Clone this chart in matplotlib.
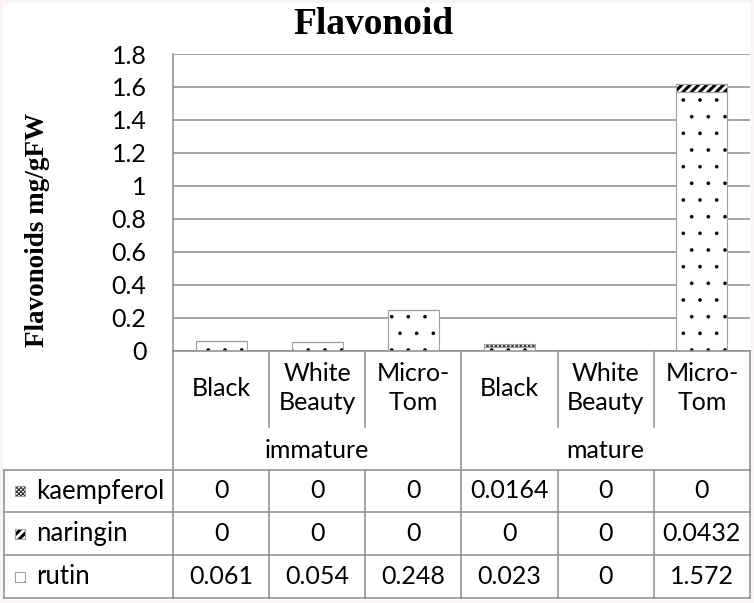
import matplotlib
matplotlib.use("Agg")
import matplotlib.pyplot as plt
import matplotlib.transforms as mtransforms
from matplotlib.patches import Rectangle
from matplotlib.lines import Line2D

# data
categories = ["Black", "White\nBeauty", "Micro-\nTom", "Black", "White\nBeauty", "Micro-\nTom"]
groups = ["immature", "mature"]
series_names = ["kaempferol", "naringin", "rutin"]
rutin = [0.061, 0.054, 0.248, 0.023, 0, 1.572]
naringin = [0, 0, 0, 0, 0, 0.0432]
kaempferol = [0, 0, 0, 0.0164, 0, 0]
yticks = [0, 0.2, 0.4, 0.6, 0.8, 1, 1.2, 1.4, 1.6, 1.8]

W, H = 754, 603
GRAY = "#8c8c8c"
SANS = ["Lato", "DejaVu Sans"]
SERIF = ["Liberation Serif", "DejaVu Serif"]

def fy(py):
    return 1 - py / H

def fx(px):
    return px / W

fig = plt.figure(figsize=(W / 100, H / 100), dpi=100, facecolor="#faf3f3")
fig.patches.append(Rectangle((fx(3), fy(600)), fx(748), 597 / H, transform=fig.transFigure,
                             facecolor="white", edgecolor="none", zorder=-10))

ax = fig.add_axes([fx(173), fy(350.6), fx(750 - 173), (350.6 - 54) / H])
ax.set_facecolor("none")
ax.set_xlim(-0.5, 5.5)
ax.set_ylim(0, 1.8)
ax.set_yticks(yticks)
ax.set_yticklabels([f"{t:g}" for t in yticks], fontfamily=SANS, fontsize=18)
ax.tick_params(axis="y", length=0, pad=19)
ax.set_xticks([])
ax.grid(axis="y", color=GRAY, linewidth=1.1)
ax.set_axisbelow(True)
for s in ["top", "right"]:
    ax.spines[s].set_visible(False)
for s in ["left", "bottom"]:
    ax.spines[s].set_color(GRAY)
    ax.spines[s].set_linewidth(1.1)

x = list(range(len(categories)))
bw = 0.53
hatches = {"rutin": ".", "naringin": "////", "kaempferol": "xxxxxxxx"}
hcolors = {"rutin": "black", "naringin": "black", "kaempferol": "#333333"}
hlw = {"rutin": 0.2, "naringin": 2.2, "kaempferol": 0.8}

def stacked(vals, bottom, name):
    with plt.rc_context({"hatch.linewidth": hlw[name], "hatch.color": hcolors[name]}):
        ax.bar(x, vals, bw, bottom=bottom, color="white", edgecolor=hcolors[name],
               hatch=hatches[name], linewidth=0, zorder=2)
    ax.bar(x, vals, bw, bottom=bottom, color="none", edgecolor="#a0a0a0",
           linewidth=0.8, zorder=3)

bottom = [0] * 6
stacked(rutin, bottom, "rutin")
bottom = [b + v for b, v in zip(bottom, rutin)]
stacked(naringin, bottom, "naringin")
bottom = [b + v for b, v in zip(bottom, naringin)]
stacked(kaempferol, bottom, "kaempferol")

fig.text(fx(373), fy(24), "Flavonoid", ha="center", va="center", fontfamily=SERIF,
         fontweight="bold", fontsize=27)
fig.text(fx(38), fy(230), "Flavonoids mg/gFW", ha="center", va="center", rotation=90,
         fontfamily=SERIF, fontweight="bold", fontsize=19.5)

# table under the axis, x in data units, y in figure units
tr = mtransforms.blended_transform_factory(ax.transData, fig.transFigure)
lkw = dict(color=GRAY, linewidth=1.1, clip_on=False)

def vline(xd, y0, y1):
    fig.add_artist(Line2D([xd, xd], [fy(y0), fy(y1)], transform=tr, **lkw))

for i in range(len(categories) + 1):
    xd = i - 0.5
    if i in (0, 3, 6):
        vline(xd, 350.6, 598)
    else:
        vline(xd, 350.6, 427)
        vline(xd, 470, 598)

for py in (470, 512, 555, 598):
    fig.add_artist(Line2D([fx(4), fx(750)], [fy(py), fy(py)], transform=fig.transFigure, **lkw))
fig.add_artist(Line2D([fx(4), fx(4)], [fy(470), fy(598)], transform=fig.transFigure, **lkw))

for i, c in enumerate(categories):
    fig.text(i, fy(388), c, transform=tr, ha="center", va="center", fontfamily=SANS,
             fontsize=18, linespacing=1.3)
for g, gname in enumerate(groups):
    fig.text(3 * g + 1, fy(450), gname, transform=tr, ha="center", va="center",
             fontfamily=SANS, fontsize=18)

rows = {"kaempferol": kaempferol, "naringin": naringin, "rutin": rutin}
row_mid = [491, 533.5, 576.5]
for r, name in enumerate(series_names):
    ym = row_mid[r]
    with plt.rc_context({"hatch.linewidth": hlw[name], "hatch.color": hcolors[name]}):
        key = Rectangle((fx(15), fy(ym + 5)), fx(10), 10 / H, transform=fig.transFigure,
                        facecolor="white", edgecolor=hcolors[name], hatch=hatches[name],
                        linewidth=0)
    fig.add_artist(key)
    fig.add_artist(Rectangle((fx(15), fy(ym + 5)), fx(10), 10 / H, transform=fig.transFigure,
                             facecolor="none", edgecolor="#a0a0a0", linewidth=0.8))
    fig.text(fx(36), fy(ym), name, ha="left", va="center", fontfamily=SANS, fontsize=18.5)
    for i, v in enumerate(rows[name]):
        fig.text(i, fy(ym), f"{v:g}", transform=tr, ha="center", va="center",
                 fontfamily=SANS, fontsize=18)

fig.savefig("out.png", dpi=100, facecolor=fig.get_facecolor())
